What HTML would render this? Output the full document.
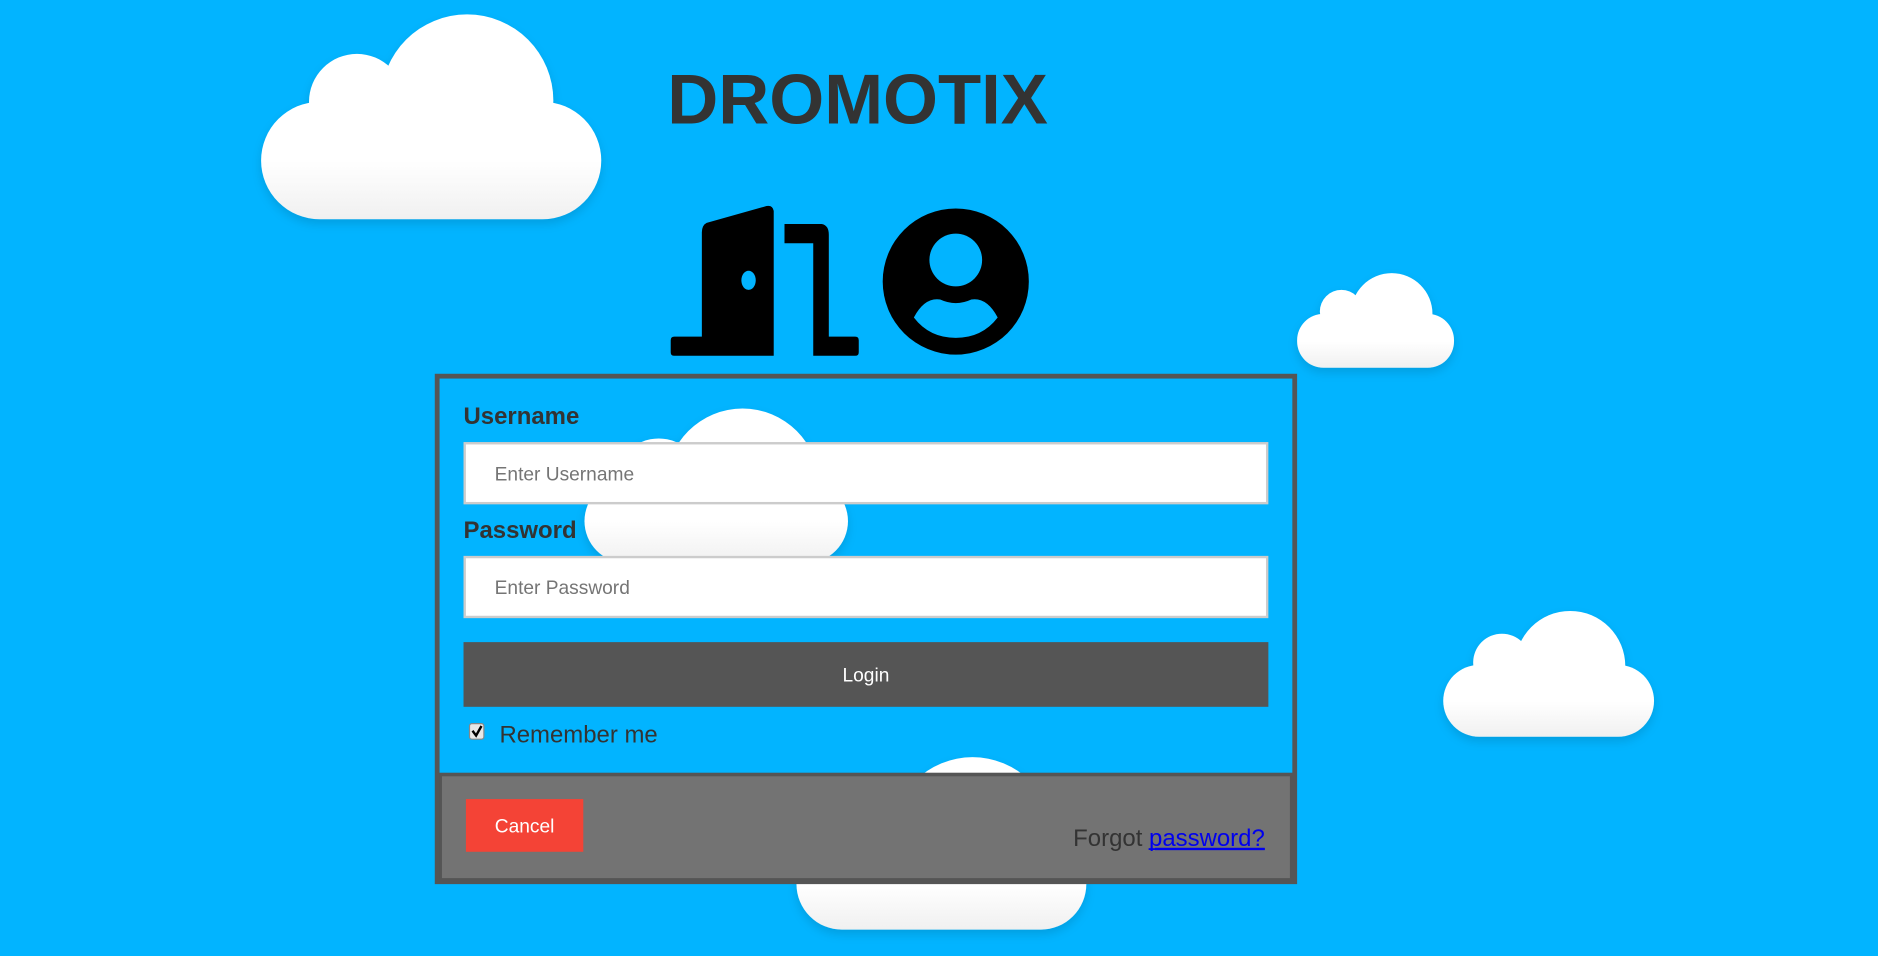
<!DOCTYPE html>
<html><head><meta charset="utf-8"><style>
html,body{margin:0;padding:0;background:#02b4ff;overflow:hidden}
svg{display:block}
text{font-family:"Liberation Sans",Arial,sans-serif}
</style></head><body>
<svg width="1878" height="956" viewBox="0 0 1568 798" preserveAspectRatio="none" xmlns="http://www.w3.org/2000/svg">
<defs>
<linearGradient id="g" x1="0" y1="0" x2="0" y2="1"><stop offset="0.5" stop-color="#ffffff"/><stop offset="1" stop-color="#f0f0f0"/></linearGradient>
<filter id="sh" x="-10%" y="-10%" width="120%" height="130%"><feDropShadow dx="0" dy="4" stdDeviation="4" flood-color="#000" flood-opacity="0.12"/></filter>
</defs>
<rect width="1568" height="798" fill="#02b4ff"/>
<g fill="url(#g)" filter="url(#sh)">
 <g><circle cx="298" cy="85" r="40" fill="#fff"/><circle cx="390" cy="84" r="72" fill="#fff"/><rect x="218" y="85" width="284" height="98" rx="49"/></g>
 <g><circle cx="1120" cy="260" r="18" fill="#fff"/><circle cx="1162" cy="262" r="34" fill="#fff"/><rect x="1083" y="262" width="131" height="45" rx="22"/></g>
 <g><circle cx="1254" cy="553" r="24" fill="#fff"/><circle cx="1311" cy="556" r="46" fill="#fff"/><rect x="1205" y="555" width="176" height="60" rx="30"/></g>
 <g><circle cx="550" cy="402" r="36" fill="#fff"/><circle cx="620" cy="405" r="64" fill="#fff"/><rect x="488" y="400" width="220" height="70" rx="35"/></g>
 <g><circle cx="738" cy="702" r="40" fill="#fff"/><circle cx="812" cy="700" r="68" fill="#fff"/><rect x="665" y="700" width="242" height="76" rx="38"/></g>
</g>
<text x="716" y="103" text-anchor="middle" font-size="59" font-weight="bold" fill="#333">DROMOTIX</text>
<g fill="#000">
 <path d="M590,186 Q586,188 586,194 L586,281 L563,281 Q560,281 560,284 L560,294 Q560,297 563,297 L646,297 L646,176 Q645,171 640,172 Z"/>
 <path d="M655,187 L686,187 Q692,188 692,196 L692,281 L714,281 Q717,281 717,284 L717,294 Q717,297 714,297 L679,297 L679,203 L655,203 Z"/>
</g>
<ellipse cx="625" cy="234" rx="6" ry="8" fill="#02b4ff"/>
<circle cx="798" cy="235" r="61" fill="#000"/>
<circle cx="798" cy="217" r="22" fill="#02b4ff"/>
<path d="M763,265 Q772,248 785,250 Q798,256 811,250 Q824,248 833,265 Q820,282 798,282 Q776,282 763,265 Z" fill="#02b4ff"/>
<rect x="366" y="645" width="714" height="91" fill="#555"/>
<rect x="369" y="648" width="708" height="85" fill="#737373"/>
<rect x="365" y="314" width="716" height="422" fill="none" stroke="#555" stroke-width="4"/>
<text x="387" y="354" font-size="20" font-weight="bold" fill="#333">Username</text>
<rect x="388" y="370" width="670" height="50" fill="#fff" stroke="#ccc" stroke-width="2"/>
<text x="413" y="401" font-size="16" fill="#757575">Enter Username</text>
<text x="387" y="449" font-size="20" font-weight="bold" fill="#333">Password</text>
<rect x="388" y="465" width="670" height="50" fill="#fff" stroke="#ccc" stroke-width="2"/>
<text x="413" y="496" font-size="16" fill="#757575">Enter Password</text>
<rect x="387" y="536" width="672" height="54" fill="#555"/>
<text x="723" y="569" text-anchor="middle" font-size="16" fill="#fff">Login</text>
<rect x="392" y="604" width="12" height="13" rx="2" fill="#e8e8e8" stroke="#888"/>
<path d="M394.5,610 L397.5,614 L402,606" fill="none" stroke="#000" stroke-width="2"/>
<text x="417" y="620" font-size="20" fill="#333">Remember me</text>
<rect x="389" y="667" width="98" height="44" fill="#f44336"/>
<text x="438" y="695" text-anchor="middle" font-size="16" fill="#fff">Cancel</text>
<text x="1056" y="706" text-anchor="end" font-size="20" fill="#333">Forgot <tspan fill="#0000ee" text-decoration="underline">password?</tspan></text>
<rect x="959" y="708" width="97" height="1.5" fill="#0000ee"/>
</svg>
</body></html>
